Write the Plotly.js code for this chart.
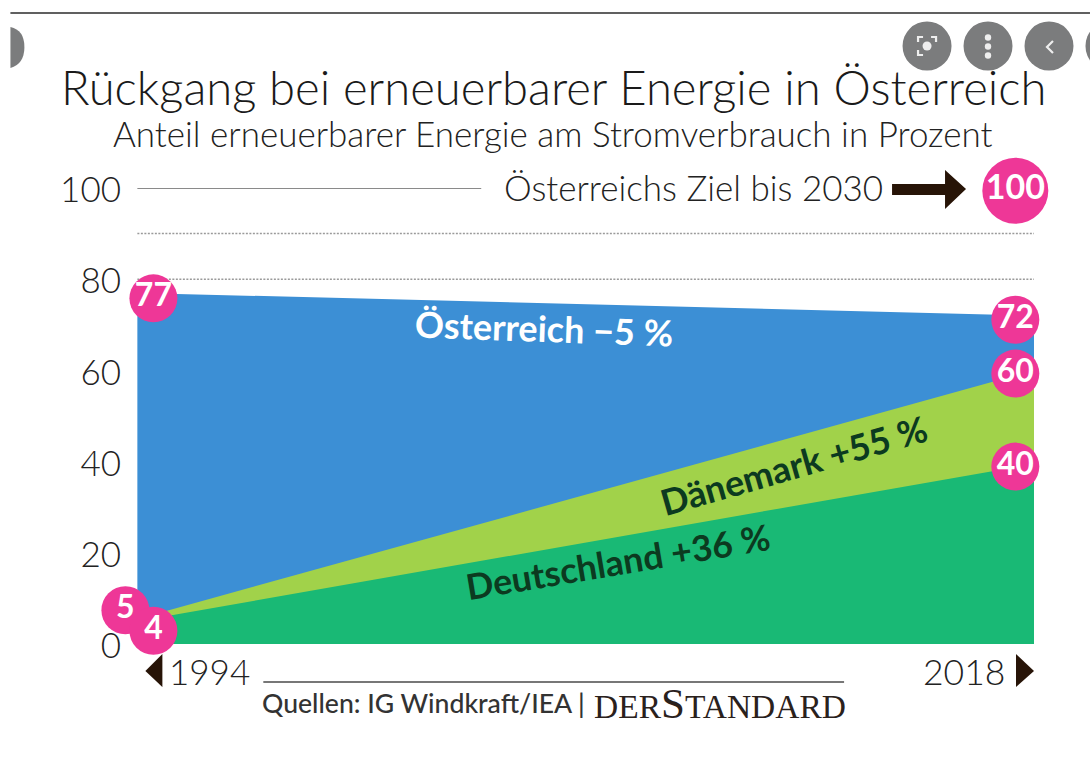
<!DOCTYPE html>
<html><head><meta charset="utf-8">
<script src="https://cdn.plot.ly/plotly-3.0.1.min.js"></script>
<style>html,body{margin:0;padding:0;background:#fff}#c{width:1090px;height:760px}</style>
</head><body><div id="c"></div>
<script>
// Data
const years = [1994, 2018];
const oesterreich = [77, 72];
const daenemark = [5.5, 60];
const deutschland = [5, 39.5];
const yTicks = [0, 20, 40, 60, 80, 100];
const dottedLevels = [80, 90];
const badgeLabels = ['77', '72', '60', '40', '5', '4'];
const badgeX = [1994.43, 2017.5, 2017.5, 2017.5, 1993.68, 1994.43];
const badgeY = [75.8, 71.1, 59.3, 38.9, 7.4, 2.9];
const goalLabel = ['100'];
const goalX = [2017.5];
const goalY = [99.4];

// Colours
const BLUE = '#3c8fd5', LIME = '#a1d24a', GREEN = '#19b975', PINK = '#ee3797', INK = '#222222', DARK = '#271407', GREY = '#7b7c7d';
const FONT = 'Lato, "Noto Sans", sans-serif';

// Plot frame: the x range opens one year early so the "5" badge left of 1994 stays in range
const PER_YEAR = 897 / 24;
const X0 = 1993;
const L = 137 - PER_YEAR * (1994 - X0), R = 1034, B = 644, T = 188;
const px = x => (x - L) / (R - L);
const py = y => (B - y) / (B - T);
const pathOf = pts => pts.map((p, i) => (i ? 'L' : 'M') + px(p[0]) + ',' + py(p[1])).join(' ') + ' Z';

function area(y, color) {
  return {x: years, y, type: 'scatter', mode: 'none', fill: 'tozeroy', fillcolor: color, hoverinfo: 'skip', cliponaxis: true};
}
function badges(x, y, text, size, fs) {
  return {x, y, text, type: 'scatter', mode: 'markers+text', cliponaxis: false, hoverinfo: 'skip',
    marker: {size, color: PINK, line: {width: 0}}, textposition: 'middle center',
    textfont: {family: FONT, size: fs, color: '#fff', weight: 700}};
}
function circle(cx, cy, r, color) {
  return {type: 'circle', xref: 'paper', yref: 'paper', x0: px(cx - r), x1: px(cx + r), y0: py(cy + r), y1: py(cy - r),
    fillcolor: color, line: {width: 0}, layer: 'above'};
}
function rule(x0, y0, x1, y1, color, width, dash) {
  return {type: 'line', xref: 'paper', yref: 'paper', x0: px(x0), x1: px(x1), y0: py(y0), y1: py(y1),
    line: {color, width, dash: dash || 'solid'}, layer: 'above'};
}
function label(text, x, y, size, opts) {
  return Object.assign({text, xref: 'paper', yref: 'paper', x: px(x), y: py(y), xanchor: 'left', yanchor: 'middle',
    showarrow: false, font: {family: FONT, size, color: INK, weight: 300}}, opts || {});
}

const traces = [
  area(oesterreich, BLUE), area(daenemark, LIME), area(deutschland, GREEN),
  badges(badgeX, badgeY, badgeLabels, 48, 32),
  badges(goalX, goalY, goalLabel, 66, 34)
];

const shapes = [
  ...dottedLevels.map(v => ({type: 'line', xref: 'paper', yref: 'y', x0: px(137), x1: 1, y0: v, y1: v,
    line: {color: '#9a9a9a', width: 1.5, dash: '2px,1.5px'}, layer: 'below'})),
  {type: 'line', xref: 'paper', yref: 'y', x0: px(137), x1: px(481), y0: 100, y1: 100, line: {color: '#8a8a8a', width: 2}, layer: 'below'},
  rule(10, 13, 1090, 13, '#2b2b2b', 1.6),
  rule(263, 682, 844, 682, '#777', 1.8),
  // goal arrow
  {type: 'path', xref: 'paper', yref: 'paper', layer: 'above', fillcolor: DARK, line: {width: 0},
    path: pathOf([[892,184],[945,184],[945,170],[966,189],[945,209],[945,195],[892,195]])},
  // period arrowheads
  {type: 'path', xref: 'paper', yref: 'paper', layer: 'above', fillcolor: DARK, line: {width: 0},
    path: pathOf([[162,654],[162,687],[145,671]])},
  {type: 'path', xref: 'paper', yref: 'paper', layer: 'above', fillcolor: DARK, line: {width: 0},
    path: pathOf([[1016,654],[1016,687],[1034,671]])},
  // viewer overlay buttons
  circle(927, 46, 24.5, GREY), circle(988, 46, 24.5, GREY), circle(1049, 46, 24.5, GREY), circle(1110, 46, 24.5, GREY),
  {type: 'path', xref: 'paper', yref: 'paper', layer: 'above', fillcolor: GREY, line: {width: 0},
    path: 'M' + px(10) + ',' + py(27) + ' Q' + px(24) + ',' + py(30) + ' ' + px(24) + ',' + py(47) + ' Q' + px(24) + ',' + py(64) + ' ' + px(10) + ',' + py(68) + ' Z'},
  circle(988, 37.5, 3.2, '#eee'), circle(988, 46.5, 3.2, '#eee'), circle(988, 55.5, 3.2, '#eee'),
  circle(927, 46, 4.5, '#eee'),
  {type: 'path', xref: 'paper', yref: 'paper', layer: 'above', line: {color: '#eee', width: 2.2},
    path: 'M' + px(1053) + ',' + py(41) + ' L' + px(1047) + ',' + py(47) + ' L' + px(1053) + ',' + py(53)},
  {type: 'path', xref: 'paper', yref: 'paper', layer: 'above', line: {color: '#eee', width: 2.2},
    path: 'M' + px(918) + ',' + py(42) + ' L' + px(918) + ',' + py(37) + ' L' + px(923) + ',' + py(37)
      + ' M' + px(931) + ',' + py(37) + ' L' + px(936) + ',' + py(37) + ' L' + px(936) + ',' + py(42)
      + ' M' + px(918) + ',' + py(50) + ' L' + px(918) + ',' + py(55) + ' L' + px(923) + ',' + py(55)},
];

const annotations = [
  label('Rückgang bei erneuerbarer Energie in Österreich', 59, 87, 47.2, {font: {family: FONT, size: 47.2, color: '#1a1a1a', weight: 300}}),
  label('Anteil erneuerbarer Energie am Stromverbrauch in Prozent', 111, 133, 35),
  label('Österreichs Ziel bis 2030', 502, 187, 35),
  label('Österreich −5 %', 544, 328, 36, {xanchor: 'center', textangle: 2, font: {family: FONT, size: 36, color: '#fff', weight: 700}}),
  label('Dänemark +55 %', 793, 465, 36, {xanchor: 'center', textangle: -16, font: {family: FONT, size: 36, color: '#0c3a20', weight: 700}}),
  label('Deutschland +36 %', 618, 561, 35.6, {xanchor: 'center', textangle: -9.5, font: {family: FONT, size: 35.6, color: '#0c3a20', weight: 700}}),
  label('1994', 167, 671, 35),
  label('2018', 921, 671, 35.5),
  label('Quellen: IG Windkraft/IEA | ', 260, 703, 26.6, {font: {family: FONT, size: 26.6, color: '#333', weight: 500}}),
  label('DER<span style="font-size:43px">S</span>TANDARD', 592, 703, 33.5, {font: {family: '"Liberation Serif", serif', size: 33.5, color: '#2a211c'}}),
];

Plotly.newPlot('c', traces, {
  width: 1090, height: 760, autosize: false, showlegend: false,
  paper_bgcolor: '#fff', plot_bgcolor: 'rgba(0,0,0,0)', hovermode: false,
  margin: {l: L, r: 1090 - R, t: T, b: 760 - B, pad: 0},
  xaxis: {range: [X0, 2018], visible: false, fixedrange: true},
  yaxis: {range: [0, 100], tickmode: 'array', tickvals: yTicks, showgrid: false, zeroline: false, showline: false,
    ticks: '', ticklabelstandoff: -22, ticklabelshift: 2, tickfont: {family: FONT, size: 35, color: INK, weight: 300}, fixedrange: true},
  shapes, annotations
}, {displayModeBar: false, staticPlot: true});
</script></body></html>
